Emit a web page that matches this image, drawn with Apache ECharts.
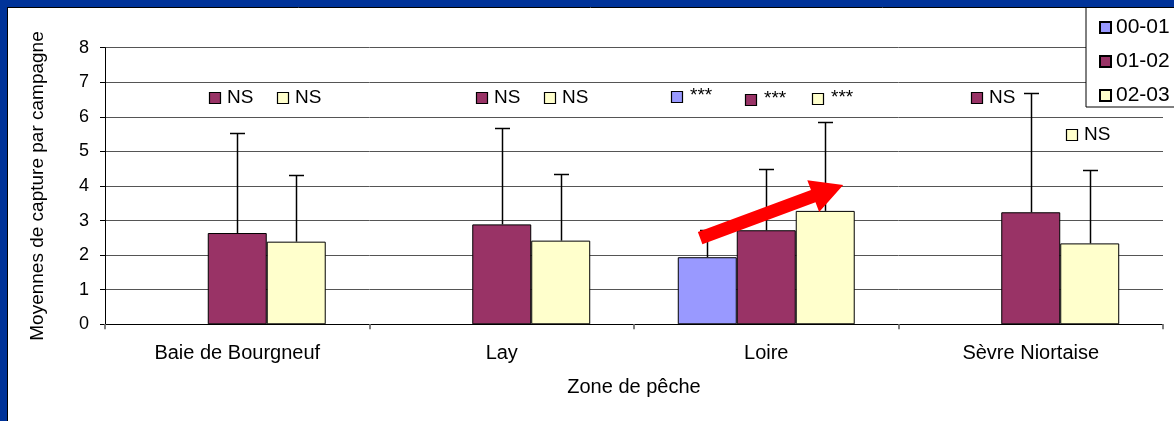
<!DOCTYPE html>
<html>
<head>
<meta charset="utf-8">
<script src="https://cdn.jsdelivr.net/npm/echarts@6/dist/echarts.min.js"></script>
<style>
html,body{margin:0;padding:0;background:#fff;}
#chart{width:1174px;height:421px;}
</style>
</head>
<body>
<div id="chart"></div>
<script>
// ---- data ----
const categories = ['Baie de Bourgneuf', 'Lay', 'Loire', 'Sèvre Niortaise'];
const seriesNames = ['00-01', '01-02', '02-03'];
const means00 = ['-', '-', 1.94, '-'];
const means01 = [2.64, 2.89, 2.72, 3.24];
const means02 = [2.39, 2.42, 3.28, 2.34];
const sd00 = [null, null, 0.79, null];
const sd01 = [2.90, 2.78, 1.77, 3.46];
const sd02 = [1.92, 1.94, 2.57, 2.12];
const yTicks = [0, 1, 2, 3, 4, 5, 6, 7, 8];
// significance annotations: [category index, series index, level, text]
const sigCat = [0, 0, 1, 1, 2, 2, 2, 3, 3];
const sigSeries = [1, 2, 1, 2, 0, 1, 2, 1, 2];
const sigLevel = [6.55, 6.55, 6.55, 6.55, 6.56, 6.48, 6.51, 6.55, 5.47];
const sigText = ['NS', 'NS', 'NS', 'NS', '***', '***', '***', 'NS', 'NS'];
// trend arrow (Loire): from level to level
const arrowCat = 2;
const arrowFrom = 2.49;
const arrowTo = 4.03;

// ---- layout / style ----
const colors = ['#9999FF', '#993366', '#FFFFCC'];
const BAR_FRAC = 0.223;
const sigDx = [7, 16, 10, 19, -1, 14, 22, -24, 12];
const arrowDxFrac = [-0.25, 0.291];
const FONT = '"Liberation Sans", Arial, sans-serif';

const chart = echarts.init(document.getElementById('chart'), null, {renderer: 'canvas'});

function barCenter(api, cat, slot) {
  const c = api.coord([cat, 0])[0];
  const band = api.size([1, 0])[0];
  return c + (slot - 1) * band * BAR_FRAC;
}

const meansAll = [means00, means01, means02];
const sdAll = [sd00, sd01, sd02];
const errData = [];
for (let s = 0; s < 3; s++) {
  for (let c = 0; c < categories.length; c++) {
    if (sdAll[s][c] != null && meansAll[s][c] !== '-') {
      errData.push([c, s, meansAll[s][c], meansAll[s][c] + sdAll[s][c]]);
    }
  }
}
const sigData = sigCat.map((c, i) => [c, sigSeries[i], sigLevel[i], i]);

const barSeries = seriesNames.map((name, i) => ({
  name: name,
  type: 'bar',
  data: meansAll[i],
  barWidth: (BAR_FRAC * 100) + '%',
  barGap: '0%',
  itemStyle: {color: colors[i], borderColor: '#000', borderWidth: 1},
  z: 2
}));

const option = {
  animation: false,
  textStyle: {fontFamily: FONT},
  graphic: [
    {type: 'rect', shape: {x: 0, y: 0, width: 1174, height: 7}, style: {fill: '#003399'}, z: 100},
    {type: 'rect', shape: {x: 0, y: 0, width: 7, height: 421}, style: {fill: '#003399'}, z: 100},
    {type: 'line', shape: {x1: 7.5, y1: 7, x2: 7.5, y2: 421}, style: {stroke: '#000', lineWidth: 1}, z: 100},
    {type: 'line', shape: {x1: 7, y1: 7.5, x2: 1174, y2: 7.5}, style: {stroke: '#000', lineWidth: 1}, z: 100}
  ],
  legend: {
    data: seriesNames,
    orient: 'vertical',
    left: 1086,
    top: 7,
    itemWidth: 11,
    itemHeight: 11,
    itemGap: 13,
    icon: 'rect',
    padding: [10, 20, 1, 13],
    backgroundColor: '#fff',
    borderColor: '#000',
    borderWidth: 1,
    borderRadius: 0,
    textStyle: {fontSize: 21, color: '#000', fontFamily: FONT, lineHeight: 21}
  },
  grid: {left: 105, right: 11, top: 47.7, bottom: 96.7},
  xAxis: {
    type: 'category',
    data: categories,
    axisLine: {lineStyle: {color: '#000', width: 1}},
    axisTick: {show: true, length: 5, lineStyle: {color: '#808080', width: 2}, alignWithLabel: false},
    axisLabel: {fontSize: 20, color: '#000', margin: 19, fontFamily: FONT},
    name: 'Zone de pêche',
    nameLocation: 'middle',
    nameGap: 53,
    nameTextStyle: {fontSize: 20, color: '#000', fontFamily: FONT}
  },
  yAxis: {
    type: 'value',
    min: yTicks[0],
    max: yTicks[yTicks.length - 1],
    interval: 1,
    axisLine: {show: true, lineStyle: {color: '#000', width: 1}},
    axisTick: {show: true, length: 5, lineStyle: {color: '#000'}},
    axisLabel: {fontSize: 18, color: '#000', margin: 16, fontFamily: FONT},
    splitLine: {show: true, lineStyle: {color: '#555', width: 1}},
    name: 'Moyennes de capture par campagne',
    nameLocation: 'middle',
    nameRotate: 90,
    nameGap: 58,
    nameTextStyle: {fontSize: 19, color: '#000', fontFamily: FONT}
  },
  series: barSeries.concat([
    {
      type: 'custom',
      data: errData,
      encode: {x: 0, y: [2, 3]},
      z: 3,
      silent: true,
      renderItem: function (params, api) {
        const cat = api.value(0), slot = api.value(1);
        const x = Math.round(barCenter(api, cat, slot)) + 0.5;
        const y0 = api.coord([cat, api.value(2)])[1];
        const y1 = Math.round(api.coord([cat, api.value(3)])[1]) + 0.5;
        return {
          type: 'group',
          children: [
            {type: 'line', shape: {x1: x, y1: y0, x2: x, y2: y1}, style: {stroke: '#000', lineWidth: 1.5}},
            {type: 'line', shape: {x1: x - 7.5, y1: y1, x2: x + 7.5, y2: y1}, style: {stroke: '#000', lineWidth: 1.5}}
          ]
        };
      }
    },
    {
      type: 'custom',
      data: sigData,
      encode: {x: 0, y: 2},
      z: 4,
      silent: true,
      renderItem: function (params, api) {
        const cat = api.value(0), slot = api.value(1), idx = api.value(3);
        const band = api.size([1, 0])[0];
        const left = barCenter(api, cat, slot) - band * BAR_FRAC / 2;
        const cx = Math.round(left + sigDx[idx]);
        const cy = Math.round(api.coord([cat, api.value(2)])[1]);
        const txt = sigText[idx];
        const stars = txt === '***';
        return {
          type: 'group',
          children: [
            {type: 'rect', shape: {x: cx - 5.5, y: cy - 5.5, width: 11, height: 11},
              style: {fill: colors[slot], stroke: '#000', lineWidth: 1.2}},
            {type: 'text', style: {
              text: txt, x: cx + (stars ? 13 : 12), y: stars ? cy - 11 : cy,
              fill: '#000', fontSize: 19, fontFamily: FONT,
              verticalAlign: stars ? 'top' : 'middle', align: 'left'}}
          ]
        };
      }
    },
    {
      type: 'custom',
      data: [[arrowCat, arrowFrom, arrowTo]],
      encode: {x: 0, y: [1, 2]},
      z: 5,
      silent: true,
      renderItem: function (params, api) {
        const cat = api.value(0);
        const band = api.size([1, 0])[0];
        const c = api.coord([cat, 0])[0];
        const tx = c + arrowDxFrac[0] * band, ty = api.coord([cat, api.value(1)])[1];
        const px = c + arrowDxFrac[1] * band, py = api.coord([cat, api.value(2)])[1];
        const dx = px - tx, dy = py - ty, L = Math.sqrt(dx * dx + dy * dy);
        const ux = dx / L, uy = dy / L, nx = -uy, ny = ux;
        const headLen = 32, headHalf = 17, sh = 6.5;
        const bx = px - ux * headLen, by = py - uy * headLen;
        const pts = [
          [tx + nx * sh, ty + ny * sh],
          [bx + nx * sh, by + ny * sh],
          [bx + nx * headHalf, by + ny * headHalf],
          [px, py],
          [bx - nx * headHalf, by - ny * headHalf],
          [bx - nx * sh, by - ny * sh],
          [tx - nx * sh, ty - ny * sh]
        ];
        return {type: 'polygon', shape: {points: pts}, style: {fill: '#FF0000'}};
      }
    }
  ])
};
chart.setOption(option);
</script>
</body>
</html>
